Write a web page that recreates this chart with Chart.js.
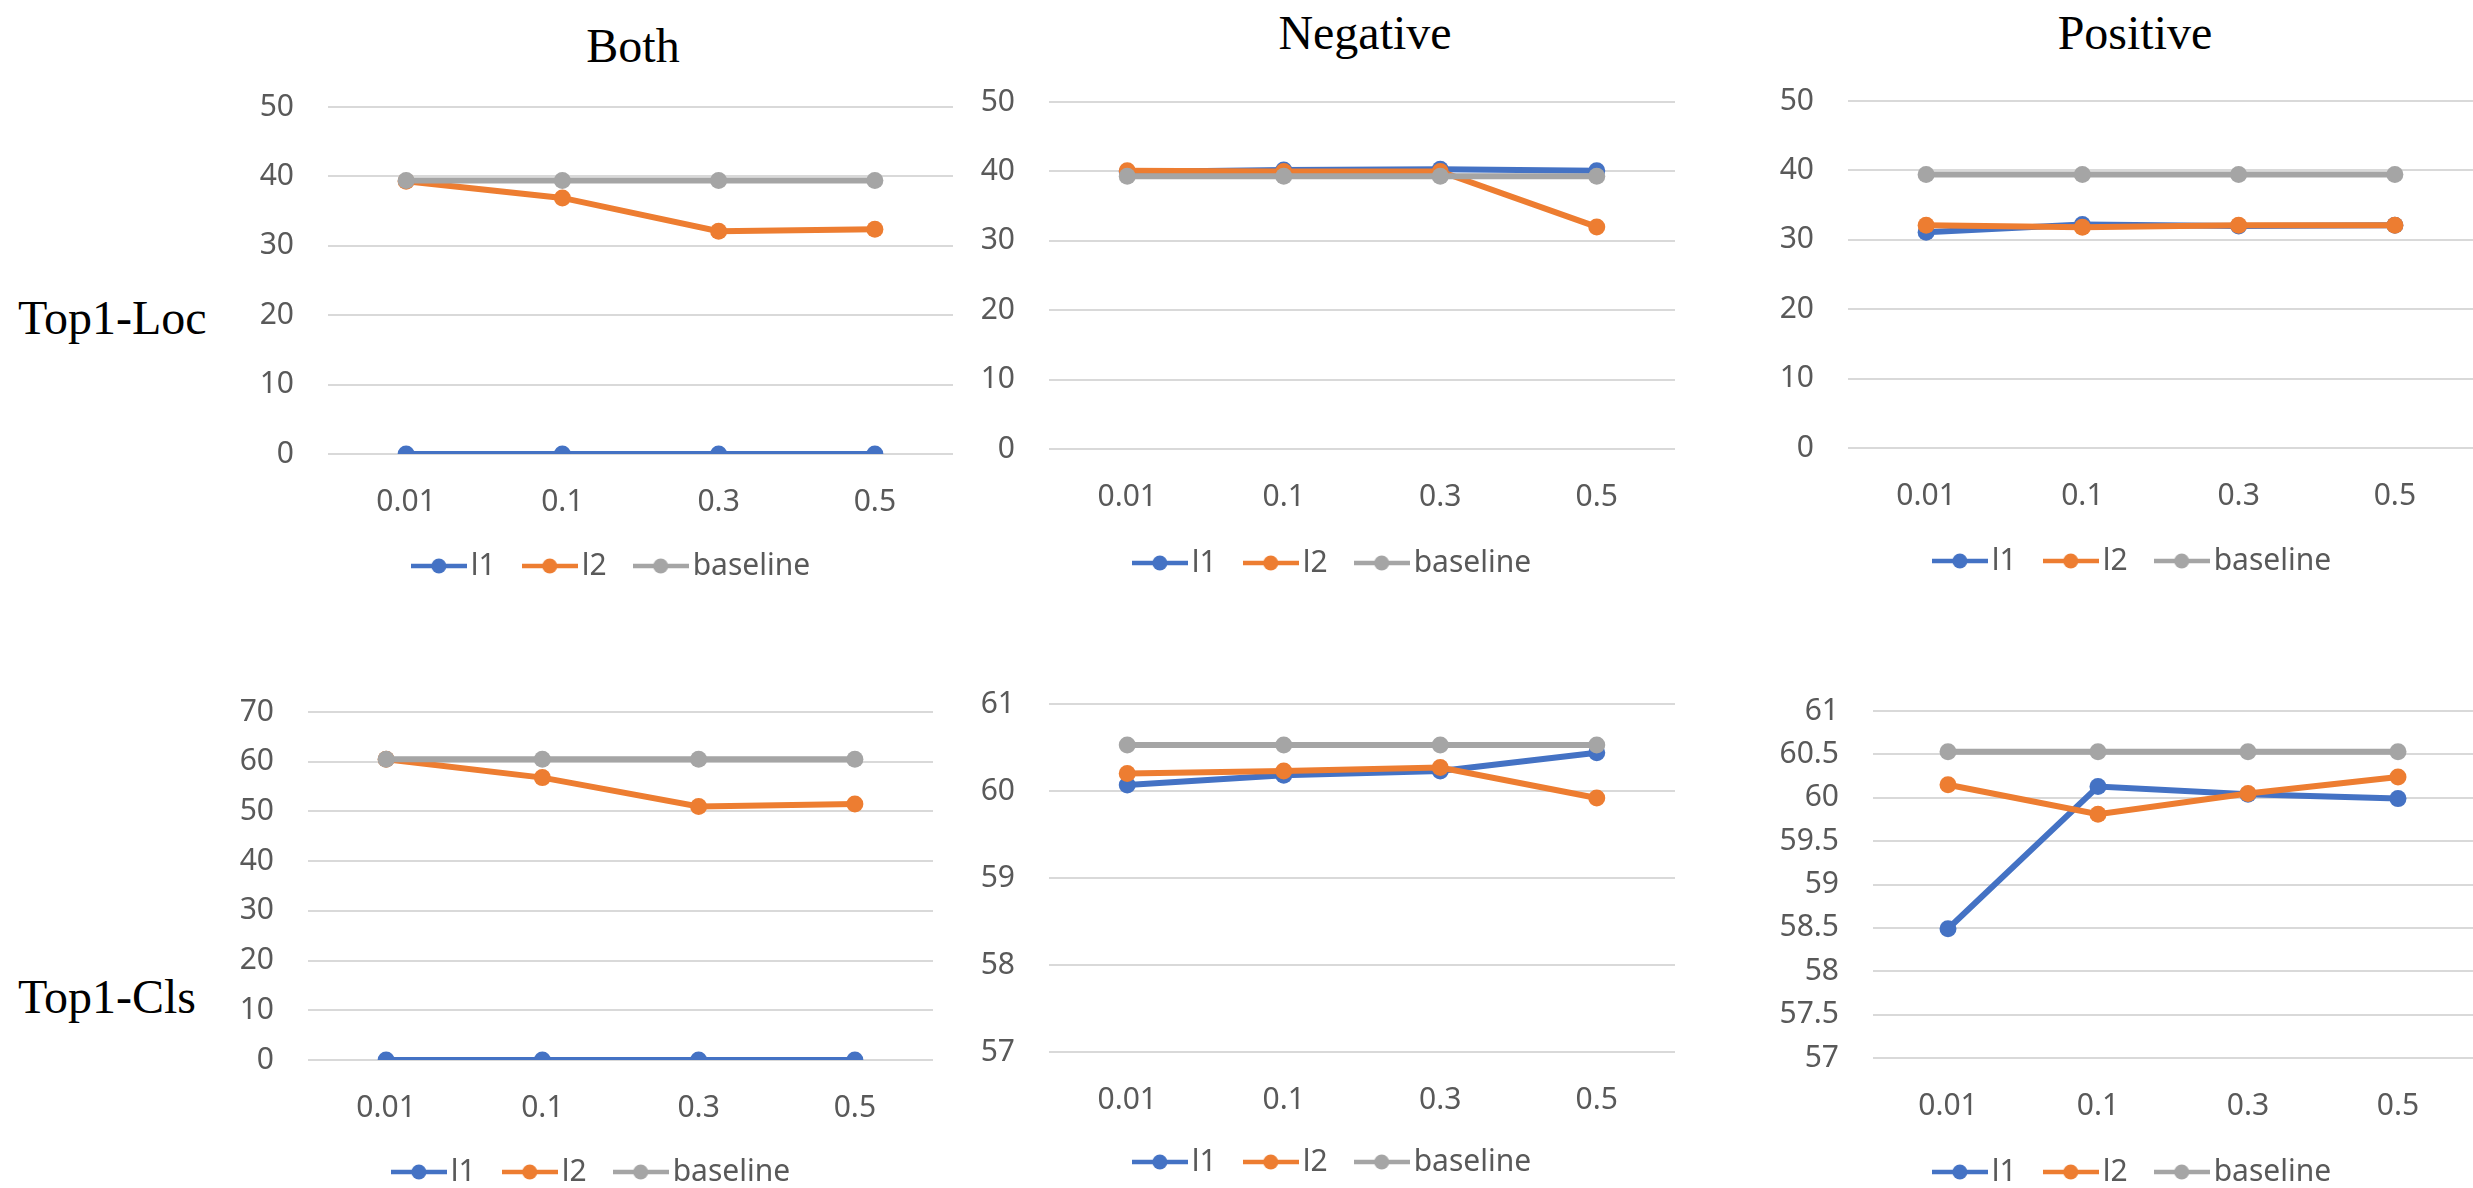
<!DOCTYPE html>
<html>
<head>
<meta charset="utf-8">
<title>Top1-Loc / Top1-Cls</title>
<script src="https://cdn.jsdelivr.net/npm/chart.js@4.4.1/dist/chart.umd.min.js"></script>
<style>
  html, body { margin: 0; padding: 0; background: #fff; overflow: hidden; }
  body { width: 2473px; height: 1188px; position: relative; }
  canvas { position: absolute; }
  .txt {
    position: absolute;
    font-family: 'Liberation Serif', 'Times New Roman', serif;
    font-size: 48px;
    line-height: 1;
    color: #000;
    white-space: nowrap;
  }
  .title { transform: translate(-50%, -50%); }
  .row { transform: translateY(-50%); }
</style>
</head>
<body>
<div class="txt title" style="left:633px; top:46px;">Both</div>
<div class="txt title" style="left:1365px; top:33px;">Negative</div>
<div class="txt title" style="left:2135px; top:33px;">Positive</div>
<div class="txt row" style="left:18px; top:318px;">Top1-Loc</div>
<div class="txt row" style="left:18px; top:997px;">Top1-Cls</div>

<script>
// x categories and legend names
const categories = ['0.01', '0.1', '0.3', '0.5']
const seriesNames = ['l1', 'l2', 'baseline']
const colors = ['#4472C4', '#ED7D31', '#A5A5A5']

// y tick labels
const locTicks = [0, 10, 20, 30, 40, 50]
const bothClsTicks = [0, 10, 20, 30, 40, 50, 60, 70]
const negClsTicks = [57, 58, 59, 60, 61]
const posClsTicks = [57, 57.5, 58, 58.5, 59, 59.5, 60, 60.5, 61]

// Top1-Loc
const bothLocL1 = [0, 0, 0, 0]
const bothLocL2 = [39.3, 36.9, 32.1, 32.4]
const bothLocBase = [39.4, 39.4, 39.4, 39.4]

const negLocL1 = [39.9, 40.2, 40.3, 40.1]
const negLocL2 = [40.1, 40.0, 40.0, 32.0]
const negLocBase = [39.3, 39.3, 39.3, 39.3]

const posLocL1 = [31.1, 32.2, 32.0, 32.1]
const posLocL2 = [32.1, 31.8, 32.1, 32.1]
const posLocBase = [39.4, 39.4, 39.4, 39.4]

// Top1-Cls
const bothClsL1 = [0, 0, 0, 0]
const bothClsL2 = [60.5, 56.8, 51.0, 51.5]
const bothClsBase = [60.5, 60.5, 60.5, 60.5]

const negClsL1 = [60.07, 60.18, 60.23, 60.44]
const negClsL2 = [60.2, 60.23, 60.27, 59.92]
const negClsBase = [60.53, 60.53, 60.53, 60.53]

const posClsL1 = [58.49, 60.13, 60.04, 59.99]
const posClsL2 = [60.15, 59.81, 60.05, 60.24]
const posClsBase = [60.53, 60.53, 60.53, 60.53]

// plot area [left, right, top, bottom] and legend centre [x, y] on the page
const panels = [
  { series: [bothLocL1, bothLocL2, bothLocBase], ticks: locTicks, box: [328, 953, 107, 454], legend: [616, 566] },
  { series: [negLocL1, negLocL2, negLocBase], ticks: locTicks, box: [1049, 1675, 102, 449], legend: [1337, 563] },
  { series: [posLocL1, posLocL2, posLocBase], ticks: locTicks, box: [1848, 2473, 101, 448], legend: [2137, 561] },
  { series: [bothClsL1, bothClsL2, bothClsBase], ticks: bothClsTicks, box: [308, 933, 712, 1060], legend: [596, 1172] },
  { series: [negClsL1, negClsL2, negClsBase], ticks: negClsTicks, box: [1049, 1675, 704, 1052], legend: [1337, 1162] },
  { series: [posClsL1, posClsL2, posClsBase], ticks: posClsTicks, box: [1873, 2473, 711, 1058], legend: [2137, 1172] }
]

const font = { family: "'Noto Sans', sans-serif", size: 30 }
const textColor = '#595959'
const yAxisW = 100
const padT = 60
const legendPad = 37

// legend marker: line with a dot in the middle
function makeIcon(color) {
  const c = document.createElement('canvas')
  c.width = 56
  c.height = 18
  const g = c.getContext('2d')
  g.strokeStyle = color
  g.lineWidth = 4.5
  g.beginPath()
  g.moveTo(0, 9)
  g.lineTo(56, 9)
  g.stroke()
  g.fillStyle = color
  g.beginPath()
  g.arc(28, 9, 7.5, 0, Math.PI * 2)
  g.fill()
  return c
}
const icons = colors.map(makeIcon)

panels.forEach(p => {
  const [L, R, T, B] = p.box
  const [lx, ly] = p.legend
  // the legend is centred on the whole canvas, so an empty right axis shifts it
  const rightW = Math.round(yAxisW - 2 * ((L + R) / 2 - lx))
  const left = L - yAxisW
  const top = T - padT
  const xh = ly - B - 15 - legendPad

  const cv = document.createElement('canvas')
  cv.width = R + rightW - left
  cv.height = ly + 25 - top
  cv.style.left = left + 'px'
  cv.style.top = top + 'px'
  document.body.appendChild(cv)

  new Chart(cv, {
    type: 'line',
    data: {
      labels: categories,
      datasets: seriesNames.map((name, i) => ({
        label: name,
        data: p.series[i],
        borderColor: colors[i],
        backgroundColor: colors[i],
        pointBackgroundColor: colors[i],
        borderWidth: 6,
        pointRadius: 8.5,
        pointHoverRadius: 8.5,
        pointBorderWidth: 0,
        tension: 0,
        order: 3 - i
      }))
    },
    options: {
      responsive: false,
      animation: false,
      devicePixelRatio: 1,
      layout: { padding: { left: 0, top: padT, right: 0, bottom: 0 } },
      plugins: {
        tooltip: { enabled: false },
        legend: {
          position: 'bottom',
          labels: {
            font: font,
            color: textColor,
            padding: legendPad,
            usePointStyle: true,
            pointStyleWidth: 34,
            sort: (a, b) => a.datasetIndex - b.datasetIndex,
            generateLabels: ch => Chart.defaults.plugins.legend.labels.generateLabels(ch)
              .map(it => Object.assign(it, { pointStyle: icons[it.datasetIndex] }))
          }
        }
      },
      scales: {
        x: {
          offset: true,
          grid: { display: false, drawTicks: false },
          border: { display: false },
          ticks: { font: font, color: textColor, padding: 30, autoSkip: false, maxRotation: 0 },
          afterFit: s => { s.height = xh }
        },
        y: {
          min: p.ticks[0],
          max: p.ticks[p.ticks.length - 1],
          grid: { color: '#D9D9D9', lineWidth: 2, drawTicks: false },
          border: { display: false },
          ticks: {
            stepSize: p.ticks[1] - p.ticks[0],
            font: font,
            color: textColor,
            padding: 34,
            callback: v => String(v)
          },
          afterFit: s => { s.width = yAxisW }
        },
        pad: {
          position: 'right',
          grid: { display: false, drawTicks: false },
          border: { display: false },
          ticks: { display: false },
          afterFit: s => { s.width = rightW }
        }
      }
    }
  })
})
</script>
</body>
</html>
